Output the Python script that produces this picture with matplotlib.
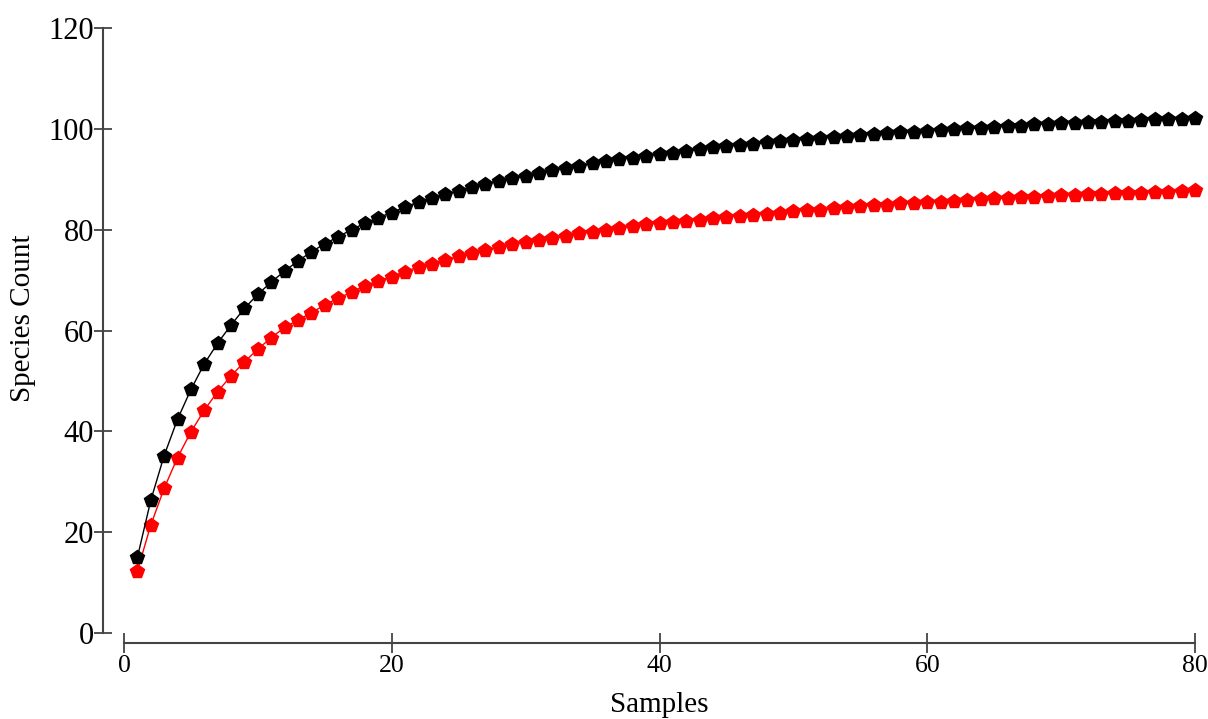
import numpy as np
import matplotlib.pyplot as plt

# samples 1..80
samples = np.arange(1, 81)

# species count, black series
black_counts = [
    15.0, 26.3, 35.2, 42.4, 48.3, 53.4, 57.5, 61.1, 64.4, 67.2,
    69.6, 71.8, 73.8, 75.6, 77.2, 78.6, 80.0, 81.3, 82.4, 83.4,
    84.5, 85.5, 86.2, 87.0, 87.7, 88.4, 89.1, 89.7, 90.2, 90.7,
    91.3, 91.8, 92.3, 92.7, 93.2, 93.6, 94.0, 94.3, 94.7, 95.0,
    95.3, 95.6, 96.0, 96.3, 96.5, 96.8, 97.0, 97.3, 97.6, 97.8,
    97.9, 98.1, 98.3, 98.5, 98.8, 98.9, 99.2, 99.3, 99.4, 99.6,
    99.8, 99.9, 100.1, 100.1, 100.3, 100.6, 100.6, 100.9, 101.0, 101.2,
    101.2, 101.3, 101.4, 101.5, 101.6, 101.7, 101.9, 101.9, 102.0, 102.2,
]

# species count, red series
red_counts = [
    12.3, 21.4, 28.7, 34.8, 39.9, 44.2, 47.9, 51.0, 53.8, 56.3,
    58.6, 60.6, 62.1, 63.5, 65.1, 66.4, 67.6, 68.9, 69.8, 70.7,
    71.7, 72.6, 73.2, 74.0, 74.7, 75.3, 76.0, 76.5, 77.1, 77.6,
    77.9, 78.3, 78.8, 79.3, 79.5, 79.9, 80.4, 80.7, 81.1, 81.3,
    81.5, 81.8, 82.0, 82.4, 82.6, 82.8, 83.0, 83.2, 83.4, 83.7,
    83.9, 84.0, 84.2, 84.5, 84.7, 84.8, 84.9, 85.2, 85.2, 85.4,
    85.5, 85.7, 85.8, 86.1, 86.2, 86.2, 86.5, 86.5, 86.6, 86.8,
    86.8, 87.0, 87.0, 87.2, 87.2, 87.3, 87.5, 87.5, 87.6, 87.9,
]

x_ticks = [0, 20, 40, 60, 80]
y_ticks = [0, 20, 40, 60, 80, 100, 120]

plt.rcParams['font.family'] = ['Liberation Serif', 'DejaVu Serif']

W, H = 1208, 719
fig = plt.figure(figsize=(W / 100, H / 100), dpi=100)
ax = fig.add_axes([124 / W, 1 - 633 / H, (1195 - 124) / W, (633 - 28) / H])

ax.plot(samples, red_counts, color='#ff0000', lw=1.0, marker='p', ms=10.5,
        mec='#ff0000', mfc='#ff0000', clip_on=False, zorder=3)
ax.plot(samples, black_counts, color='black', lw=1.0, marker='p', ms=10.5,
        mec='black', mfc='black', clip_on=False, zorder=4)

ax.set_xlim(0, 80)
ax.set_ylim(0, 120)
ax.set_xticks(x_ticks)
ax.set_yticks(y_ticks)

for side in ['top', 'right']:
    ax.spines[side].set_visible(False)
ax.spines['left'].set_position(('outward', 15))
ax.spines['bottom'].set_position(('outward', 7.5))
for side in ['left', 'bottom']:
    ax.spines[side].set_color('#444444')
    ax.spines[side].set_linewidth(1.5)

ax.tick_params(axis='y', direction='inout', length=13, width=1.3,
               color='#444444', labelsize=22, pad=0)
ax.tick_params(axis='x', direction='inout', length=14, width=1.3,
               color='#444444', labelsize=18.5, pad=1)

ax.set_xlabel('Samples', fontsize=21)
ax.set_ylabel('Species Count', fontsize=21)
ax.xaxis.set_label_coords(0.5, -0.098)
ax.yaxis.set_label_coords(-0.082, 0.52)

fig.savefig('out.png', dpi=100)
